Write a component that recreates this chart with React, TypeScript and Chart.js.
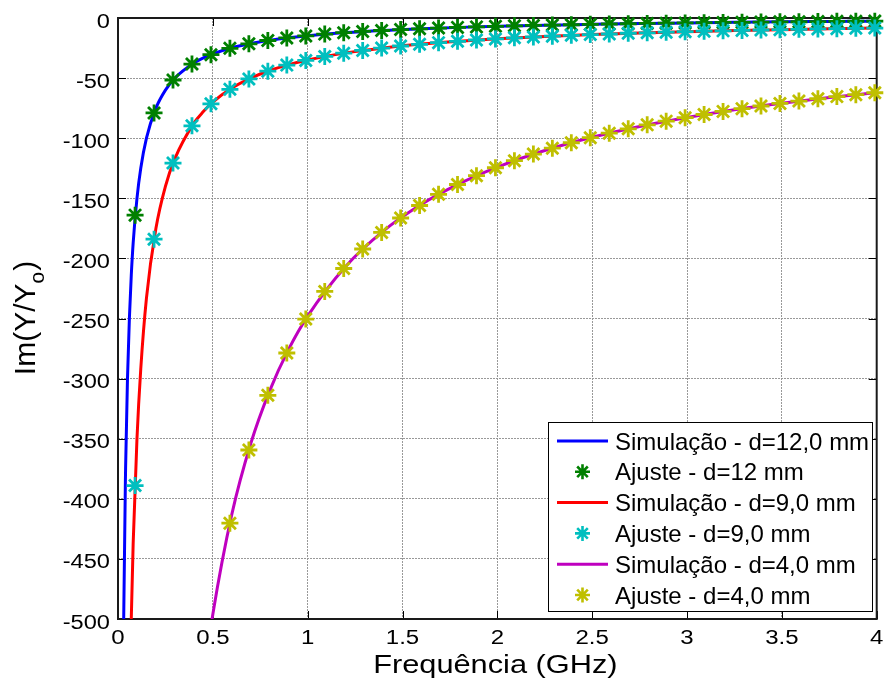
import { useEffect, useRef } from "react";
import { Chart, registerables } from "chart.js";

Chart.register(...registerables);

// ---------------- data ----------------
const freqSim = [0.02, 0.03, 0.04, 0.05, 0.06, 0.07, 0.08, 0.1, 0.12, 0.15, 0.2, 0.25, 0.3, 0.4, 0.45, 0.5, 0.6, 0.7, 0.8, 0.9, 1.0, 1.2, 1.4, 1.6, 1.8, 2.0, 2.25, 2.5, 2.75, 3.0, 3.25, 3.5, 3.75, 4.0];
const sim12 = [-750, -500, -375, -300, -250, -214, -187, -150, -125, -100, -75, -60, -50, -37.5, -33.2, -29.9, -24.8, -21.2, -18.5, -16.4, -14.7, -12.1, -10.3, -8.9, -7.8, -6.9, -6.0, -5.3, -4.6, -4.1, -3.6, -3.2, -2.9, -2.6];
const sim9 = [-1750, -1167, -875, -700, -583, -500, -437, -350, -292, -233, -175, -140, -117, -87.5, -77.8, -70, -58.3, -50, -43.7, -38.8, -34.9, -29.0, -24.9, -21.7, -19.3, -17.3, -15.3, -13.8, -12.5, -11.4, -10.5, -9.7, -9.0, -8.4];
const sim4 = [null, null, null, null, null, null, null, null, null, null, null, null, null, null, -551, -496, -413, -354, -310, -275.5, -248, -206.7, -177.1, -155, -137.8, -124, -110.2, -99.2, -90.2, -82.7, -76.3, -70.9, -66.1, -62];

const freqFit = [0.09, 0.19, 0.29, 0.39, 0.49, 0.59, 0.69, 0.79, 0.89, 0.99, 1.09, 1.19, 1.29, 1.39, 1.49, 1.59, 1.69, 1.79, 1.89, 1.99, 2.09, 2.19, 2.29, 2.39, 2.49, 2.59, 2.69, 2.79, 2.89, 2.99, 3.09, 3.19, 3.29, 3.39, 3.49, 3.59, 3.69, 3.79, 3.89, 3.99];
const fit12 = [-164, -79, -51.6, -38.3, -30.5, -25.2, -21.5, -18.7, -16.6, -14.9, -13.4, -12.2, -11.2, -10.4, -9.6, -9.0, -8.4, -7.8, -7.4, -6.9, -6.5, -6.2, -5.9, -5.6, -5.3, -5.0, -4.8, -4.5, -4.3, -4.1, -3.9, -3.7, -3.6, -3.4, -3.2, -3.1, -3.0, -2.8, -2.7, -2.6];
const fit9 = [-389, -184, -120.7, -89.7, -71.4, -59.3, -50.7, -44.2, -39.2, -35.3, -32.0, -29.3, -27.0, -25.0, -23.3, -21.9, -20.5, -19.4, -18.3, -17.4, -16.5, -15.8, -15.1, -14.4, -13.8, -13.3, -12.7, -12.3, -11.8, -11.4, -11.0, -10.7, -10.3, -10.0, -9.7, -9.4, -9.1, -8.9, -8.6, -8.4];
const fit4 = [null, null, null, null, null, -420.3, -359.4, -313.9, -278.7, -250.5, -227.5, -208.4, -192.2, -178.4, -166.4, -156.0, -146.7, -138.5, -131.2, -124.6, -118.7, -113.2, -108.3, -103.8, -99.6, -95.8, -92.2, -88.9, -85.8, -82.9, -80.3, -77.7, -75.4, -73.2, -71.1, -69.1, -67.2, -65.4, -63.8, -62.2];

const xTicks = [0, 0.5, 1, 1.5, 2, 2.5, 3, 3.5, 4];
const xTickLabels = ["0", "0.5", "1", "1.5", "2", "2.5", "3", "3.5", "4"];
const yTicks = [0, -50, -100, -150, -200, -250, -300, -350, -400, -450, -500];
const yTickLabels = ["0", "-50", "-100", "-150", "-200", "-250", "-300", "-350", "-400", "-450", "-500"];

const seriesLabels = [
  "Simulação - d=12,0 mm",
  "Ajuste - d=12 mm",
  "Simulação - d=9,0 mm",
  "Ajuste - d=9,0 mm",
  "Simulação - d=4,0 mm",
  "Ajuste - d=4,0 mm",
];
const seriesColors = ["#0000ff", "#008000", "#ff0000", "#00bfbf", "#bf00bf", "#bfbf00"];
const xTitle = "Frequência (GHz)";

// ---------------- helpers ----------------
const FONT = "'Liberation Sans', Arial, Helvetica, sans-serif";

function drawText(ctx: CanvasRenderingContext2D, text: string, x: number, y: number, size: number, sx: number, align: string) {
  ctx.save();
  ctx.font = `${size}px ${FONT}`;
  ctx.textBaseline = "alphabetic";
  ctx.textAlign = "left";
  const w = ctx.measureText(text).width * sx;
  let x0 = x;
  if (align === "center") x0 = x - w / 2;
  else if (align === "right") x0 = x - w;
  ctx.translate(x0, y);
  ctx.scale(sx, 1);
  ctx.fillStyle = "#000";
  ctx.fillText(text, 0, 0);
  ctx.restore();
}

function drawStar(ctx: CanvasRenderingContext2D, x: number, y: number, r: number, color: string, lw: number) {
  ctx.save();
  ctx.strokeStyle = color;
  ctx.lineWidth = lw;
  ctx.beginPath();
  for (let k = 0; k < 4; k++) {
    const a = (k * Math.PI) / 4;
    ctx.moveTo(x - r * Math.cos(a), y - r * Math.sin(a));
    ctx.lineTo(x + r * Math.cos(a), y + r * Math.sin(a));
  }
  ctx.stroke();
  ctx.restore();
}

const matlabPlugin = {
  id: "matlabLook",
  beforeDatasetsDraw(chart: any) {
    const { ctx, chartArea: a } = chart;
    const xs = chart.scales.x;
    const ys = chart.scales.y;
    ctx.save();
    ctx.strokeStyle = "#000";
    ctx.lineWidth = 1;
    ctx.beginPath();
    const tl = 8;
    for (const v of xTicks) {
      const p = Math.round(xs.getPixelForValue(v)) + 0.5;
      ctx.moveTo(p, a.bottom);
      ctx.lineTo(p, a.bottom - tl);
      ctx.moveTo(p, a.top);
      ctx.lineTo(p, a.top + tl);
    }
    for (const v of yTicks) {
      const p = Math.round(ys.getPixelForValue(v)) + 0.5;
      ctx.moveTo(a.left, p);
      ctx.lineTo(a.left + tl, p);
      ctx.moveTo(a.right, p);
      ctx.lineTo(a.right - tl, p);
    }
    ctx.stroke();
    ctx.lineWidth = 2;
    ctx.strokeStyle = "#1a1a1a";
    ctx.strokeRect(a.left, a.top, a.right - a.left, a.bottom - a.top);
    ctx.restore();
  },
  afterDraw(chart: any) {
    const { ctx, chartArea: a } = chart;
    const xs = chart.scales.x;
    const ys = chart.scales.y;
    // tick labels
    xTicks.forEach((v, i) => {
      drawText(ctx, xTickLabels[i], xs.getPixelForValue(v), a.bottom + 25, 20, 1.2, "center");
    });
    yTicks.forEach((v, i) => {
      drawText(ctx, yTickLabels[i], a.left - 8, ys.getPixelForValue(v) + 9.5, 20, 1.18, "right");
    });
    // x title
    drawText(ctx, xTitle, (a.left + a.right) / 2 - 2, a.bottom + 54, 25, 1.23, "center");
    // y title with subscript
    ctx.save();
    ctx.translate(35, (a.top + a.bottom) / 2);
    ctx.rotate(-Math.PI / 2);
    ctx.fillStyle = "#000";
    ctx.textBaseline = "alphabetic";
    ctx.textAlign = "left";
    const mainF = `30px ${FONT}`;
    const subF = `21px ${FONT}`;
    ctx.font = mainF;
    const w1 = ctx.measureText("Im(Y/Y").width;
    const wp = ctx.measureText(")").width;
    ctx.font = subF;
    const wo = ctx.measureText("o").width;
    const tx = -(w1 + wo + wp) / 2;
    ctx.font = mainF;
    ctx.fillText("Im(Y/Y", tx, 0);
    ctx.font = subF;
    ctx.fillText("o", tx + w1, 9);
    ctx.font = mainF;
    ctx.fillText(")", tx + w1 + wo + 1, 0);
    ctx.restore();
    // legend
    const lx = 548.5, ly = 422.5, lw = 324, lh = 189;
    ctx.save();
    ctx.fillStyle = "#fff";
    ctx.fillRect(lx, ly, lw, lh);
    ctx.strokeStyle = "#000";
    ctx.lineWidth = 1;
    ctx.strokeRect(lx, ly, lw, lh);
    ctx.restore();
    seriesLabels.forEach((label, i) => {
      const cy = 441 + 30.8 * i;
      if (i % 2 === 0) {
        ctx.save();
        ctx.strokeStyle = seriesColors[i];
        ctx.lineWidth = 3;
        ctx.beginPath();
        ctx.moveTo(557, cy);
        ctx.lineTo(608, cy);
        ctx.stroke();
        ctx.restore();
      } else {
        drawStar(ctx, 582.5, cy, 7.5, seriesColors[i], 2.6);
      }
      drawText(ctx, label, 615, cy + 8.5, 24, 1.0, "left");
    });
  },
};

export default function App() {
  const ref = useRef<HTMLCanvasElement | null>(null);
  useEffect(() => {
    if (!ref.current) return;
    const simSets = [sim12, sim9, sim4];
    const fitSets = [fit12, fit9, fit4];
    const datasets: any[] = [];
    for (let s = 0; s < 3; s++) {
      datasets.push({
        label: seriesLabels[2 * s],
        data: freqSim.map((f, i) => ({ x: f, y: simSets[s][i] })),
        borderColor: seriesColors[2 * s],
        backgroundColor: seriesColors[2 * s],
        borderWidth: 3,
        pointRadius: 0,
        showLine: true,
        cubicInterpolationMode: "monotone",
        order: 10 - 2 * s,
      });
      datasets.push({
        label: seriesLabels[2 * s + 1],
        data: freqFit.map((f, i) => ({ x: f, y: fitSets[s][i] })),
        borderColor: seriesColors[2 * s + 1],
        backgroundColor: seriesColors[2 * s + 1],
        showLine: false,
        pointStyle: "star",
        pointRadius: 8.5,
        pointBorderWidth: 2.8,
        borderWidth: 2.8,
        clip: false,
        order: 9 - 2 * s,
      });
    }
    const chart = new Chart(ref.current, {
      type: "line",
      data: { datasets },
      plugins: [matlabPlugin],
      options: {
        animation: false,
        responsive: false,
        devicePixelRatio: 1,
        layout: { padding: { left: 0, right: 9, top: 18, bottom: 0 } },
        plugins: { legend: { display: false }, tooltip: { enabled: false } },
        scales: {
          x: {
            type: "linear",
            min: 0,
            max: 4,
            ticks: { stepSize: 0.5, display: false },
            grid: { color: "#999999", lineWidth: 1, drawTicks: false },
            border: { display: false, dash: [2, 1] },
            afterFit: (s: any) => {
              s.height = 68;
            },
          },
          y: {
            type: "linear",
            min: -500,
            max: 0,
            ticks: { stepSize: 50, display: false },
            grid: { color: "#999999", lineWidth: 1, drawTicks: false },
            border: { display: false, dash: [2, 1] },
            afterFit: (s: any) => {
              s.width = 118;
            },
          },
        },
      } as any,
    });
    return () => chart.destroy();
  }, []);
  return (
    <div style={{ position: "absolute", left: 0, top: 0, width: 888, height: 687, background: "#fff" }}>
      <canvas ref={ref} width={888} height={687} />
    </div>
  );
}
